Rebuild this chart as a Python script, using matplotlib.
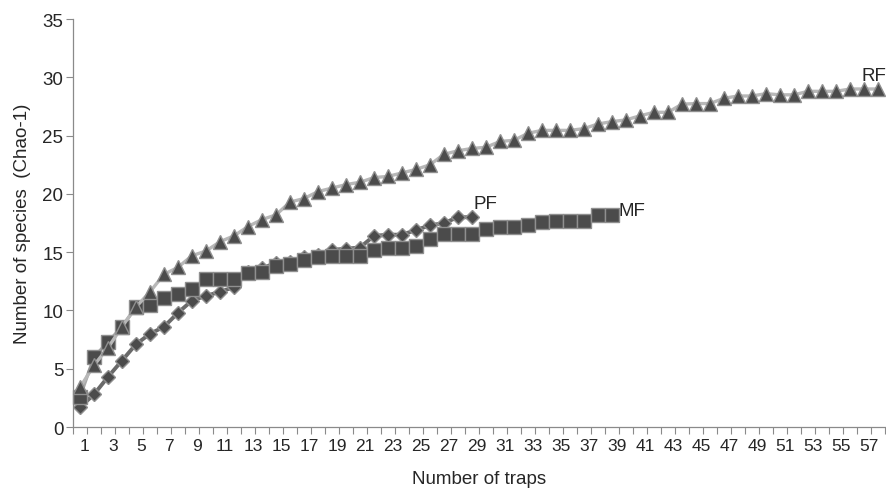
import matplotlib.pyplot as plt
import numpy as np

# Chao-1 species estimates per number of traps
rf_values = [3.4, 5.3, 6.8, 8.6, 10.3, 11.6, 13.1, 13.7, 14.7, 15.1,
             15.9, 16.4, 17.2, 17.8, 18.2, 19.3, 19.6, 20.2, 20.5, 20.8,
             21.0, 21.4, 21.5, 21.8, 22.1, 22.5, 23.4, 23.7, 23.9, 24.0,
             24.5, 24.6, 25.2, 25.45, 25.45, 25.45, 25.6, 26.0, 26.2, 26.35,
             26.7, 27.0, 27.0, 27.7, 27.75, 27.75, 28.2, 28.4, 28.4, 28.6,
             28.5, 28.5, 28.8, 28.8, 28.8, 29.0, 29.0, 29.0]
mf_values = [2.6, 6.0, 7.3, 8.6, 10.3, 10.5, 11.1, 11.4, 11.8, 12.7,
             12.7, 12.7, 13.2, 13.3, 13.8, 14.0, 14.3, 14.6, 14.7, 14.7,
             14.7, 15.15, 15.35, 15.35, 15.55, 16.15, 16.55, 16.55, 16.55, 16.95,
             17.15, 17.15, 17.35, 17.6, 17.7, 17.7, 17.7, 18.15, 18.15]
pf_values = [1.7, 2.8, 4.3, 5.7, 7.1, 8.0, 8.6, 9.8, 10.85, 11.25,
             11.6, 12.0, 13.3, 13.6, 14.1, 14.2, 14.6, 14.8, 15.2, 15.3,
             15.4, 16.4, 16.5, 16.5, 16.9, 17.3, 17.5, 18.0, 18.0]
series_names = ['PF', 'MF', 'RF']
trap_labels = list(range(1, 58, 2))
y_ticks = [0, 5, 10, 15, 20, 25, 30, 35]

FONT = ['Liberation Sans', 'DejaVu Sans']
TEXT = '#262626'
AXIS = '#8a8a8a'
FACE = '#4b4b4b'
EDGE = '#8f8f8f'


def main():

    plt.rcParams['font.family'] = FONT

    fig = plt.figure(figsize = (8.87, 4.89), dpi = 100)
    ax = fig.add_axes([0.0823, 0.1247, 0.9154, 0.8343])

    styles = {
        'PF': dict(values = pf_values, marker = 'D', ms = 7.0, color = '#6a6a6a', lw = 2.8),
        'MF': dict(values = mf_values, marker = 's', ms = 9.8, color = '#a8a8a8', lw = 2.4),
        'RF': dict(values = rf_values, marker = '^', ms = 10.0, color = '#b8b8b8', lw = 2.4),
    }

    for name in series_names:
        st = styles[name]
        xs = np.arange(1, len(st['values']) + 1)
        ax.plot(
            xs, st['values'], color = st['color'], lw = st['lw'],
            marker = st['marker'], ms = st['ms'], mfc = FACE, mec = EDGE, mew = 1.0,
            clip_on = False,
        )

    # series labels next to the last points
    ax.annotate('PF', xy = (len(pf_values), pf_values[-1]), xytext = (1, 10),
                textcoords = 'offset points', ha = 'left', va = 'center',
                fontsize = 13.5, color = TEXT)
    ax.annotate('MF', xy = (len(mf_values), mf_values[-1]), xytext = (5, 3.5),
                textcoords = 'offset points', ha = 'left', va = 'center',
                fontsize = 13.5, color = TEXT)
    ax.annotate('RF', xy = (len(rf_values), rf_values[-1]), xytext = (6, 10),
                textcoords = 'offset points', ha = 'right', va = 'center',
                fontsize = 13.5, color = TEXT)

    ax.set_xlim(0.5, len(rf_values) + 0.5)
    ax.set_ylim(0, 35)

    ax.set_xticks([t + 0.35 for t in trap_labels])
    ax.set_xticklabels([str(t) for t in trap_labels])
    ax.set_xticks(np.arange(0.5, len(rf_values) + 0.6, 1), minor = True)
    ax.tick_params(axis = 'x', which = 'major', length = 0, pad = 8,
                   labelsize = 12.5, labelcolor = TEXT)
    ax.tick_params(axis = 'x', which = 'minor', length = 5, width = 0.8, color = AXIS)

    ax.set_yticks(y_ticks)
    ax.tick_params(axis = 'y', length = 5, width = 0.8, color = AXIS, pad = 2,
                   labelsize = 13.5, labelcolor = TEXT)

    for side in ('top', 'right'):
        ax.spines[side].set_visible(False)
    for side in ('left', 'bottom'):
        ax.spines[side].set_color(AXIS)
        ax.spines[side].set_linewidth(0.9)

    ax.set_xlabel('Number of traps', fontsize = 13.5, color = TEXT, labelpad = 12)
    ax.set_ylabel('Number of species  (Chao-1)', fontsize = 13.5, color = TEXT, labelpad = 8)

    fig.savefig('out.png', dpi = 100)


if __name__ == '__main__':
    main()
